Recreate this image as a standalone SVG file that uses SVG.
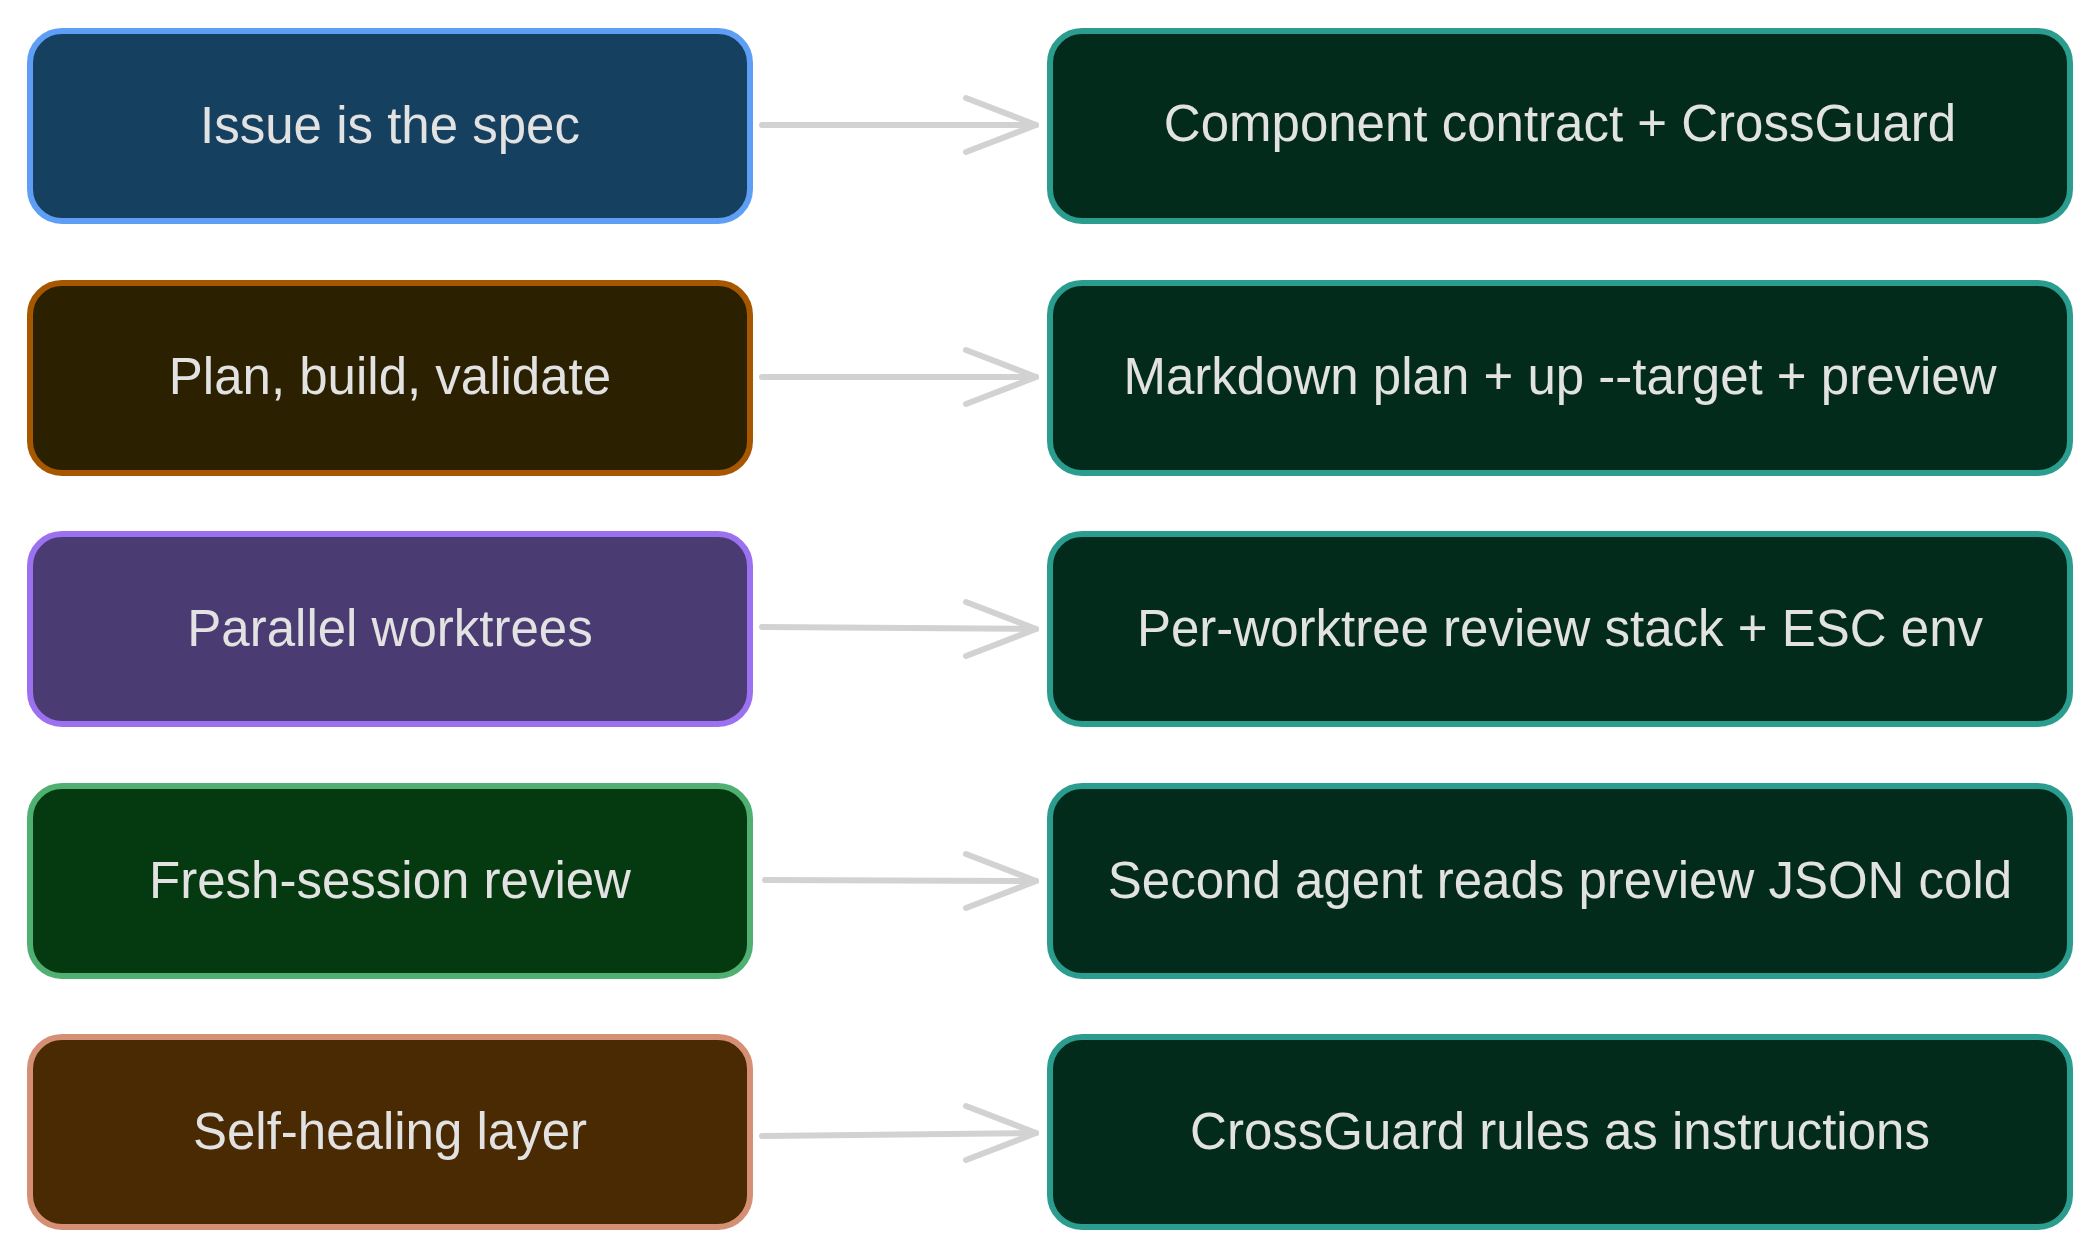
<svg xmlns="http://www.w3.org/2000/svg" width="2100" height="1260" viewBox="0 0 2100 1260">
<defs>
<style>
.n rect{stroke-width:6}
.t{font-family:"Liberation Sans",Arial,sans-serif;font-size:51px;fill:#e2e2e2;text-anchor:middle;dominant-baseline:central}
.r rect{fill:#022b1c;stroke:#2b9d8f}
.c line{stroke:#d2d2d2;stroke-width:6;stroke-linecap:round}
.c path{fill:none;stroke:#d2d2d2;stroke-width:6;stroke-linecap:round;stroke-linejoin:round}
</style>
</defs>
<rect width="2100" height="1260" fill="#ffffff"/>
<g id="l1" class="n"><rect x="30" y="31" width="720" height="190" rx="32" fill="#15405f" stroke="#5f9ef5"/><text class="t" x="390" y="125">Issue is the spec</text></g>
<g id="l2" class="n"><rect x="30" y="283" width="720" height="190" rx="32" fill="#2b2000" stroke="#a65700"/><text class="t" x="390" y="376">Plan, build, validate</text></g>
<g id="l3" class="n"><rect x="30" y="534" width="720" height="190" rx="32" fill="#4a3b72" stroke="#9b71f0"/><text class="t" x="390" y="628">Parallel worktrees</text></g>
<g id="l4" class="n"><rect x="30" y="786" width="720" height="190" rx="32" fill="#053a10" stroke="#4fb071"/><text class="t" x="390" y="880">Fresh-session review</text></g>
<g id="l5" class="n"><rect x="30" y="1037" width="720" height="190" rx="32" fill="#4a2a03" stroke="#d48f74"/><text class="t" x="390" y="1131">Self-healing layer</text></g>
<g id="r1" class="n r"><rect x="1050" y="31" width="1020" height="190" rx="32"/><text class="t" x="1560" y="123">Component contract + CrossGuard</text></g>
<g id="r2" class="n r"><rect x="1050" y="283" width="1020" height="190" rx="32"/><text class="t" x="1560" y="376">Markdown plan + up --target + preview</text></g>
<g id="r3" class="n r"><rect x="1050" y="534" width="1020" height="190" rx="32"/><text class="t" x="1560" y="628">Per-worktree review stack + ESC env</text></g>
<g id="r4" class="n r"><rect x="1050" y="786" width="1020" height="190" rx="32"/><text class="t" x="1560" y="880">Second agent reads preview JSON cold</text></g>
<g id="r5" class="n r"><rect x="1050" y="1037" width="1020" height="190" rx="32"/><text class="t" x="1560" y="1131">CrossGuard rules as instructions</text></g>
<g id="connectors" class="c">
<line x1="762" y1="125" x2="1036" y2="125"/><path d="M966 98 L1036 125 L966 152"/>
<line x1="762" y1="377" x2="1036" y2="377"/><path d="M966 350 L1036 377 L966 404"/>
<line x1="762" y1="627" x2="1036" y2="629"/><path d="M966 602 L1036 629 L966 656"/>
<line x1="765" y1="880" x2="1036" y2="881"/><path d="M966 854 L1036 881 L966 908"/>
<line x1="762" y1="1136" x2="1036" y2="1133"/><path d="M966 1106 L1036 1133 L966 1160"/>
</g>
</svg>
